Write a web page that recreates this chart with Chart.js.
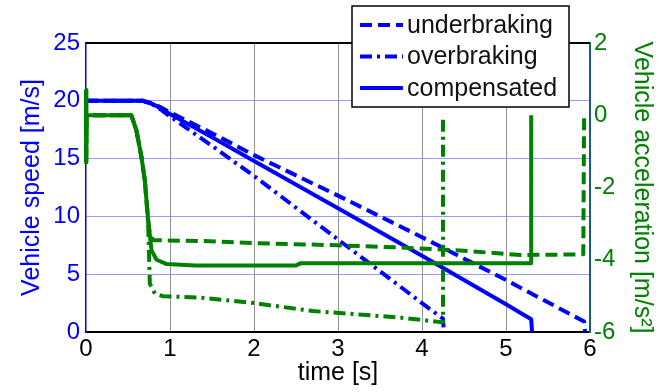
<!DOCTYPE html>
<html><head><meta charset="utf-8">
<script src="https://cdn.jsdelivr.net/npm/chart.js@4/dist/chart.umd.min.js"></script>
<style>html,body{margin:0;padding:0;background:#fff}canvas{display:block}</style>
</head><body>
<canvas id="c" width="660" height="392"></canvas>
<script>
// ---- labels ----
const seriesNames = ['underbraking', 'overbraking', 'compensated'];
const xTitle = 'time [s]';
const ySpeedTitle = 'Vehicle speed [m/s]';
const yAccTitle = 'Vehicle acceleration [m/s\u00B2]';

// ---- vehicle speed [m/s] ----
const underSpeedTime = [0, 0.68, 0.8, 0.9, 1.0, 1.5, 2, 3, 4, 5, 5.93, 5.94];
const underSpeedVals = [20, 20, 19.75, 19.4, 19.0, 17.2, 15.3, 11.8, 8.2, 4.5, 0.9, 0];
const overSpeedTime = [0, 0.68, 0.8, 0.9, 1.0, 1.5, 2, 3, 4, 4.25, 4.26];
const overSpeedVals = [20, 20, 19.65, 19.2, 18.65, 16.1, 13.5, 8.0, 2.5, 1.15, 0];
const compSpeedTime = [0, 0.68, 0.8, 0.9, 1.0, 1.5, 2, 3, 4, 5, 5.3, 5.31];
const compSpeedVals = [20, 20, 19.7, 19.3, 18.85, 16.85, 14.8, 10.7, 6.6, 2.4, 1.1, 0];

// ---- vehicle acceleration [m/s^2] ----
const underAccTime = [0, 0, 0.01, 0.54, 0.6, 0.66, 0.7, 0.72, 0.74, 0.76, 0.8, 1.36, 2, 3, 3.74, 4.5, 5.17, 5.92, 5.93];
const underAccVals = [0.7, -1.3, 0, 0, -0.42, -1.15, -1.8, -2.35, -2.9, -3.3, -3.46, -3.48, -3.54, -3.6, -3.66, -3.75, -3.87, -3.85, 0];
const overAccTime = [0, 0, 0.01, 0.54, 0.6, 0.66, 0.7, 0.72, 0.74, 0.76, 0.82, 0.92, 1.36, 2, 2.7, 3.74, 4.2, 4.25, 4.25];
const overAccVals = [0.7, -1.3, 0, 0, -0.42, -1.15, -1.8, -2.35, -3.0, -4.66, -4.94, -5.01, -5.05, -5.2, -5.42, -5.6, -5.72, -5.72, 0];
const compAccTime = [0, 0, 0.01, 0.54, 0.6, 0.66, 0.7, 0.72, 0.74, 0.78, 0.84, 0.96, 1.3, 2.5, 2.55, 5.3, 5.3];
const compAccVals = [0.7, -1.3, 0, 0, -0.42, -1.15, -1.8, -2.35, -2.9, -3.74, -4.0, -4.12, -4.16, -4.16, -4.1, -4.1, 0];

// ---- axis ranges ----
const xRange = [0, 6], xStep = 1;
const speedRange = [0, 25], speedStep = 5;
const accRange = [-6, 2], accStep = 2;

const BLUE = '#0000ff', GREEN = '#008000';
const FONT = 'Liberation Sans, Arial, Helvetica, sans-serif';
const DASH = [12, 6], DASHDOT = [12, 5, 3, 5], SOLID = [];

function pts(t, v) { return t.map((x, i) => ({ x: x, y: v[i] })); }
function ds(label, t, v, color, dash, axis, order) {
  return { label, data: pts(t, v), borderColor: color, backgroundColor: color, borderDash: dash,
    borderWidth: 4, pointRadius: 0, tension: 0, fill: false, yAxisID: axis, order, clip: 4,
    borderCapStyle: 'butt', borderJoinStyle: 'round' };
}

const datasets = [
  ds(seriesNames[0], underSpeedTime, underSpeedVals, BLUE, DASH, 'y', 2),
  ds(seriesNames[1], overSpeedTime, overSpeedVals, BLUE, DASHDOT, 'y', 2),
  ds(seriesNames[2], compSpeedTime, compSpeedVals, BLUE, SOLID, 'y', 2),
  ds(seriesNames[0] + ' acc', underAccTime, underAccVals, GREEN, DASH, 'y2', 1),
  ds(seriesNames[1] + ' acc', overAccTime, overAccVals, GREEN, DASHDOT, 'y2', 1),
  ds(seriesNames[2] + ' acc', compAccTime, compAccVals, GREEN, SOLID, 'y2', 1)
];

const framePlugin = {
  id: 'frame',
  afterDatasetsDraw(chart) {
    const { ctx, chartArea: a } = chart;
    ctx.save();
    ctx.strokeStyle = '#000'; ctx.lineWidth = 2;
    ctx.beginPath(); ctx.moveTo(a.left, a.top); ctx.lineTo(a.right, a.top); ctx.stroke();
    ctx.restore();
  },
  afterDraw(chart) {
    const ctx = chart.ctx;
    ctx.save();
    const bx = 352, by = 6, bw = 217, bh = 101;
    ctx.fillStyle = '#fff';
    ctx.fillRect(bx, by, bw, bh);
    ctx.strokeStyle = '#000'; ctx.lineWidth = 1.5;
    ctx.strokeRect(bx, by, bw, bh);
    const rows = [25, 56.5, 88];
    for (let i = 0; i < 3; i++) {
      const d = chart.data.datasets[i];
      ctx.strokeStyle = d.borderColor; ctx.lineWidth = 4; ctx.lineCap = 'butt';
      ctx.setLineDash(d.borderDash);
      ctx.beginPath(); ctx.moveTo(360, rows[i]); ctx.lineTo(403, rows[i]); ctx.stroke();
      ctx.setLineDash([]);
      ctx.fillStyle = '#111'; ctx.font = '25px ' + FONT;
      ctx.textBaseline = 'middle'; ctx.textAlign = 'left';
      ctx.fillText(d.label, 407, rows[i] + 1);
    }
    ctx.restore();
  }
};

new Chart(document.getElementById('c'), {
  type: 'line',
  data: { datasets },
  plugins: [framePlugin],
  options: {
    responsive: false, animation: false, devicePixelRatio: 1,
    layout: { padding: { top: 43, left: 0, right: 0, bottom: 0 } },
    plugins: { legend: { display: false }, tooltip: { enabled: false } },
    scales: {
      x: {
        type: 'linear', position: 'bottom', min: xRange[0], max: xRange[1],
        ticks: { stepSize: xStep, color: '#000', font: { family: FONT, size: 24 }, padding: 3, maxRotation: 0 },
        grid: { drawTicks: false, lineWidth: 1,
          color: c => (c.tick && (c.tick.value === xRange[0] || c.tick.value === xRange[1])) ? 'rgba(0,0,0,0)' : 'rgba(110,110,110,0.75)' },
        border: { color: '#000', width: 2 },
        title: { display: true, text: xTitle, color: '#000', font: { family: FONT, size: 25 }, padding: { top: 0, bottom: 4 } },
        afterFit: s => { s.height = 60; }
      },
      y: {
        type: 'linear', position: 'left', min: speedRange[0], max: speedRange[1],
        ticks: { stepSize: speedStep, color: BLUE, font: { family: FONT, size: 24 }, padding: 6 },
        grid: { drawTicks: false, lineWidth: 1,
          color: c => (c.tick && (c.tick.value === speedRange[0] || c.tick.value === speedRange[1])) ? 'rgba(0,0,0,0)' : 'rgba(120,120,255,0.75)' },
        border: { color: BLUE, width: 1.5 },
        title: { display: true, text: ySpeedTitle, color: BLUE, font: { family: FONT, size: 25 }, padding: { top: 17.5, bottom: 0 } },
        afterFit: s => { s.width = 86; }
      },
      y2: {
        type: 'linear', position: 'right', min: accRange[0], max: accRange[1],
        ticks: { stepSize: accStep, color: GREEN, font: { family: FONT, size: 24 }, padding: 4 },
        grid: { display: false, drawTicks: false },
        border: { color: '#1b5b7a', width: 2 },
        title: { display: true, text: yAccTitle, color: GREEN, font: { family: FONT, size: 25 }, padding: { top: 3, bottom: 0 } },
        afterFit: s => { s.width = 70; }
      }
    }
  }
});
</script>
</body></html>
